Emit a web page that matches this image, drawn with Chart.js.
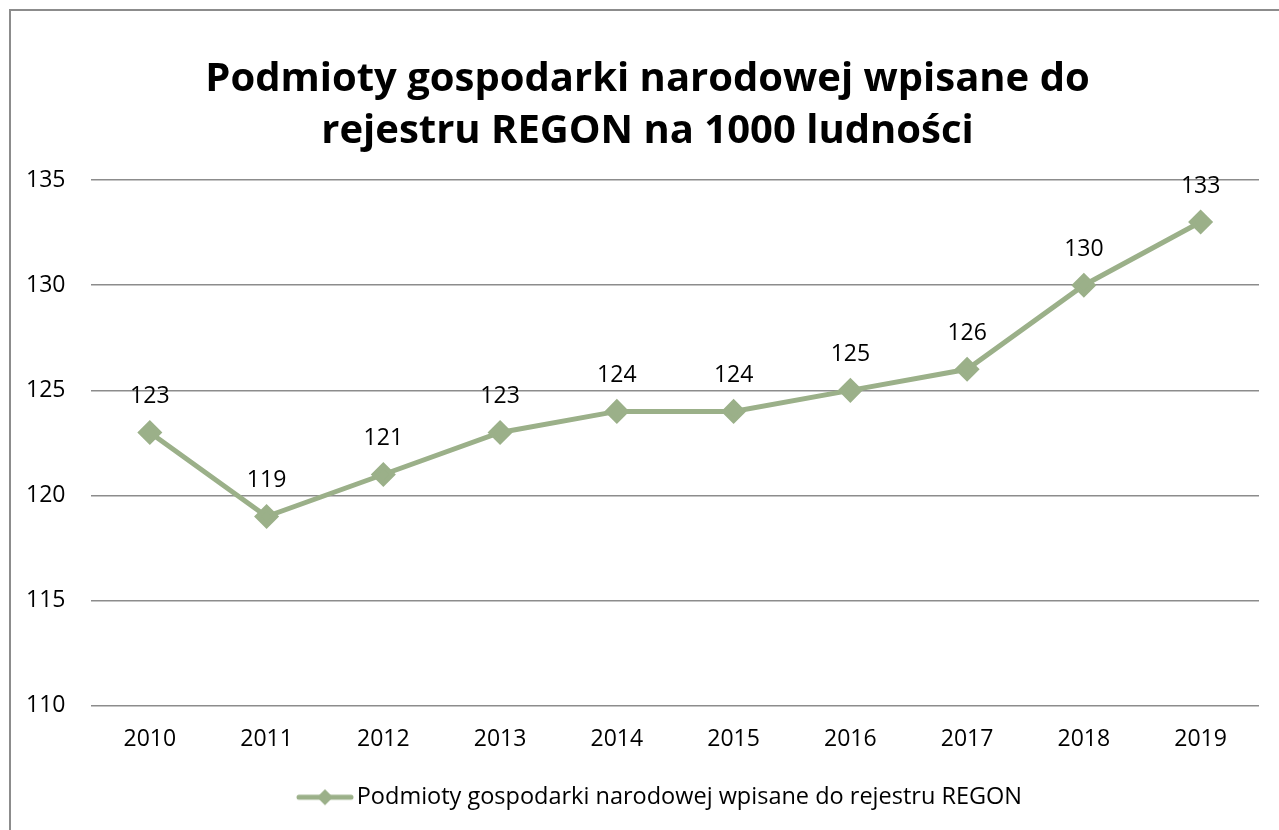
<!DOCTYPE html>
<html>
<head>
<meta charset="utf-8">
<script src="https://cdn.jsdelivr.net/npm/chart.js@4"></script>
<style>
  body{margin:0;background:#fff;}
  #wrap{position:relative;width:1279px;height:830px;overflow:hidden;}
  #frame{position:absolute;left:9px;top:9px;width:1300px;height:850px;border:2px solid #8c8c8c;box-sizing:border-box;}
  canvas{position:absolute;left:0;top:0;}
</style>
</head>
<body>
<div id="wrap">
  <div id="frame"></div>
  <canvas id="chart" width="1279" height="830"></canvas>
</div>
<script>
const years = ["2010","2011","2012","2013","2014","2015","2016","2017","2018","2019"];
const values = [123, 119, 121, 123, 124, 124, 125, 126, 130, 133];
const seriesName = "Podmioty gospodarki narodowej wpisane do rejestru REGON";
const titleLines = ["Podmioty gospodarki narodowej wpisane do", "rejestru REGON na 1000 ludności"];

const green = "#9bb089";
const font = "'Open Sans', 'Noto Sans', sans-serif";
const textSize = 23;

// legend marker: short line with a diamond in the middle
function legendMarker(){
  let c = document.createElement("canvas");
  c.width = 58; c.height = 20;
  let g = c.getContext("2d");
  g.strokeStyle = green;
  g.lineWidth = 5;
  g.lineCap = "round";
  g.beginPath(); g.moveTo(3, 10); g.lineTo(55, 10); g.stroke();
  g.fillStyle = green;
  g.beginPath(); g.moveTo(29, 2); g.lineTo(37, 10); g.lineTo(29, 18); g.lineTo(21, 10); g.closePath(); g.fill();
  return c;
}

// value labels above each point
const pointLabels = {
  id: "pointLabels",
  afterDatasetsDraw(chart){
    let ctx = chart.ctx;
    let meta = chart.getDatasetMeta(0);
    ctx.save();
    ctx.font = textSize + "px " + font;
    ctx.fillStyle = "#000";
    ctx.textAlign = "center";
    ctx.textBaseline = "middle";
    meta.data.forEach((pt, i)=>{
      ctx.fillText(String(chart.data.datasets[0].data[i]), pt.x, pt.y - 36);
    });
    ctx.restore();
  }
};

// title and legend sit a bit right of the plot's centre in the original
const nudgeBoxes = {
  id: "nudgeBoxes",
  afterLayout(chart){
    chart.titleBlock.left += 18; chart.titleBlock.right += 18;
    chart.legend.left += 34; chart.legend.right += 34;
  }
};

new Chart(document.getElementById("chart"), {
  type: "line",
  data: {
    labels: years,
    datasets: [{
      label: seriesName,
      data: values,
      borderColor: green,
      backgroundColor: green,
      borderWidth: 5,
      pointStyle: "rectRot",
      pointRadius: 9,
      pointHoverRadius: 9,
      pointBackgroundColor: green,
      pointBorderColor: green,
      tension: 0,
      fill: false
    }]
  },
  options: {
    responsive: false,
    animation: false,
    layout: {padding: {left: 0, right: 20, top: 2, bottom: 11}},
    plugins: {
      title: {
        display: true,
        text: titleLines,
        color: "#000",
        font: {family: font, size: 40, weight: "bold", lineHeight: 1.3},
        padding: {top: 52, bottom: 22}
      },
      legend: {
        position: "bottom",
        labels: {
          usePointStyle: true,
          pointStyle: legendMarker(),
          pointStyleWidth: 40,
          color: "#000",
          font: {family: font, size: 23.5},
          padding: 12
        }
      },
      tooltip: {enabled: false}
    },
    scales: {
      x: {
        offset: true,
        grid: {display: false, drawTicks: false},
        border: {display: false},
        ticks: {color: "#000", font: {family: font, size: textSize}, padding: 20}
      },
      y: {
        min: 110,
        max: 135,
        ticks: {stepSize: 5, color: "#000", font: {family: font, size: textSize}, padding: 26},
        grid: {color: "#8c8c8c", lineWidth: 1.5, drawTicks: false},
        border: {display: false}
      }
    }
  },
  plugins: [pointLabels, nudgeBoxes]
});
</script>
</body>
</html>
